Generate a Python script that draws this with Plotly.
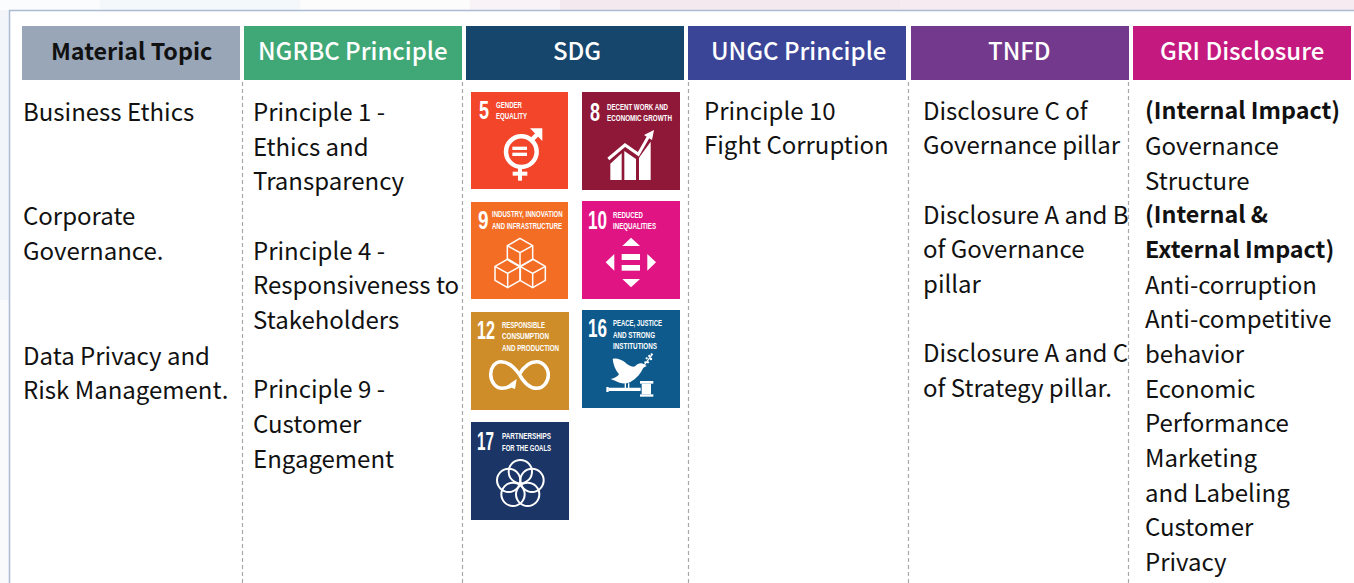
import json
import plotly.graph_objects as go

FONT = "Noto Sans CJK SC"
TILE_FONT = "Liberation Sans"
W, H = 1354, 583

header_labels = ["Material Topic", "NGRBC Principle", "SDG", "UNGC Principle", "TNFD", "GRI Disclosure"]
header_left = [22, 244, 466, 688, 911, 1133]
header_right = [240, 462, 684, 906, 1129, 1351]
header_fill = ["#98a6b8", "#40a877", "#17466c", "#3a4598", "#73398d", "#c41a80"]
header_ink = ["#111111", "#ffffff", "#ffffff", "#ffffff", "#ffffff", "#ffffff"]
header_size = [23.3, 24, 24, 24, 24, 24]
header_dx = [0, 0, 2, 1, -1, 0]
divider_x = [242.5, 462.5, 688.5, 908.5, 1128.5]

topic_lines = [("Business Ethics", 112), ("Corporate", 216.5), ("Governance.", 251),
               ("Data Privacy and", 356), ("Risk Management.", 390)]
ngrbc_lines = [("Principle 1 -", 112), ("Ethics and", 147), ("Transparency", 181),
               ("Principle 4 -", 251), ("Responsiveness to", 285), ("Stakeholders", 320),
               ("Principle 9 -", 389), ("Customer", 424), ("Engagement", 459)]
ungc_lines = [("Principle 10", 111), ("Fight Corruption", 145)]
tnfd_lines = [("Disclosure C of", 111), ("Governance pillar", 145),
              ("Disclosure A and B", 215), ("of Governance", 249), ("pillar", 284),
              ("Disclosure A and C", 353), ("of Strategy pillar.", 388)]
gri_lines = [("(Internal Impact)", 111), ("Governance", 146), ("Structure", 181),
             ("(Internal &", 215), ("External Impact)", 250),
             ("Anti-corruption", 285), ("Anti-competitive", 319), ("behavior", 354),
             ("Economic", 389), ("Performance", 423), ("Marketing", 458),
             ("and Labeling", 493), ("Customer", 527), ("Privacy", 562)]
gri_bold = ["(Internal Impact)", "(Internal &", "External Impact)"]
column_x = [23, 253, 704, 923, 1145]
column_lines = [topic_lines, ngrbc_lines, ungc_lines, tnfd_lines, gri_lines]

sdg_number = ["5", "8", "9", "10", "12", "16", "17"]
sdg_title = [["GENDER", "EQUALITY"], ["DECENT WORK AND", "ECONOMIC GROWTH"],
             ["INDUSTRY, INNOVATION", "AND INFRASTRUCTURE"], ["REDUCED", "INEQUALITIES"],
             ["RESPONSIBLE", "CONSUMPTION", "AND PRODUCTION"], ["PEACE, JUSTICE", "AND STRONG", "INSTITUTIONS"],
             ["PARTNERSHIPS", "FOR THE GOALS"]]
sdg_fill = ["#f2452a", "#8f1838", "#f36d25", "#e11484", "#cf8d2a", "#0e5a8c", "#1b3666"]
sdg_left = [471, 582, 471, 582, 471, 582, 471]
sdg_top = [92, 92, 202, 201, 312, 310, 422]
sdg_size = [97, 98, 97, 98, 98, 98, 98]
sdg_num_dx = [8, 8, 7.3, 5.7, 6, 5.7, 6]
sdg_num_dy = [18, 19.7, 18, 19, 18, 18, 19]
sdg_text_dx = [25, 24.7, 20.7, 31, 30.7, 31, 30.7]
sdg_text_dy = [12, 14, 12, 13, 12.3, 12.7, 13.7]
sdg_text_size = [9.6, 9.6, 8.3, 9.6, 9.6, 9.6, 9.6]

# squeezed widths of the condensed goal lettering
condensed_width = {
    "5": 10, "8": 10, "9": 10.5, "10": 19, "12": 18, "16": 19, "17": 17,
    "GENDER": 26, "EQUALITY": 31, "DECENT WORK AND": 61, "ECONOMIC GROWTH": 65,
    "INDUSTRY, INNOVATION": 70.7, "AND INFRASTRUCTURE": 70, "REDUCED": 30, "INEQUALITIES": 43,
    "RESPONSIBLE": 43, "CONSUMPTION": 47, "AND PRODUCTION": 57,
    "PEACE, JUSTICE": 49, "AND STRONG": 42, "INSTITUTIONS": 44,
    "PARTNERSHIPS": 49, "FOR THE GOALS": 49,
}

shapes = []
annotations = []


def rect(x0, y0, x1, y1, fill, line=None, width=0, layer="above"):
    shapes.append(dict(type="rect", xref="x", yref="y", x0=x0, y0=y0, x1=x1, y1=y1,
                       fillcolor=fill, layer=layer,
                       line=dict(color=line or fill, width=width)))


def text(x, y, s, size, color, family=FONT, anchor="left", weight=None):
    f = dict(family=family, size=size, color=color)
    if weight:
        f["weight"] = weight
    annotations.append(dict(x=x, y=y, xref="x", yref="y", text=s, showarrow=False,
                            xanchor=anchor, yanchor="middle", align=anchor, font=f,
                            borderpad=0, borderwidth=0))


def path(ox, oy, d, fill="white", stroke=None, width=0):
    out = []
    for seg in d:
        cmd, nums = seg[0], seg[1:]
        pts = []
        for i in range(0, len(nums), 2):
            pts.append(f"{ox + nums[i] / 3:.2f},{oy + nums[i + 1] / 3:.2f}")
        out.append(cmd + " ".join(pts))
    shapes.append(dict(type="path", xref="x", yref="y", path=" ".join(out),
                       fillcolor=fill if fill else "rgba(0,0,0,0)",
                       line=dict(color=stroke or "rgba(0,0,0,0)", width=width)))


def poly(ox, oy, pts, fill="white", stroke=None, width=0, closed=True):
    d = [("M", *pts[0])] + [("L", *p) for p in pts[1:]]
    if closed:
        d.append(("Z",))
    path(ox, oy, d, fill, stroke, width)


def circle(ox, oy, cx, cy, r, fill=None, stroke="white", width=2):
    shapes.append(dict(type="circle", xref="x", yref="y",
                       x0=ox + (cx - r) / 3, x1=ox + (cx + r) / 3,
                       y0=oy + (cy - r) / 3, y1=oy + (cy + r) / 3,
                       fillcolor=fill or "rgba(0,0,0,0)",
                       line=dict(color=stroke, width=width)))


def box(ox, oy, x0, y0, x1, y1, fill="white"):
    rect(ox + x0 / 3, oy + y0 / 3, ox + x1 / 3, oy + y1 / 3, fill)


# page backdrop
strip_x = [0, 100, 300, 470, 560, 900, 1354]
strip_c = ["#fbfcfd", "#f5f8fb", "#fcfcfd", "#f9f3f7", "#f5e9f0", "#f6ebf1"]
for a, b, c in zip(strip_x[:-1], strip_x[1:], strip_c):
    rect(a, 0, b, 10, c, layer="below")
rect(0, 10, 9, 300, "#f2f6fa", layer="below")
rect(0, 300, 9, H, "#f8fafc", layer="below")
rect(9.5, 10.5, W + 5, H + 5, "#ffffff", line="#adbad4", width=1.5, layer="below")

# header cells
for x0, x1, fill, label, ink, size, dx in zip(header_left, header_right, header_fill, header_labels, header_ink, header_size, header_dx):
    rect(x0, 26, x1, 80, fill)
    text((x0 + x1) / 2 + dx, 49.5, label, size, ink, anchor="center", weight=600 if ink != "#ffffff" else 500)

# dashed dividers
for x in divider_x:
    shapes.append(dict(type="line", xref="x", yref="y", x0=x, x1=x, y0=82, y1=H,
                       line=dict(color="#a8a8a8", width=1.2, dash="4px,3px")))

# body text
for x, lines in zip(column_x, column_lines):
    for s, y in lines:
        if s in gri_bold:
            text(x, y - 2, s, 23.3, "#111111", weight=700)
        else:
            text(x, y - 2, s, 24, "#111111")

# SDG tiles
for n, t, fill, x, y, s, ndx, ndy, tdx, tdy, ts in zip(sdg_number, sdg_title, sdg_fill, sdg_left, sdg_top, sdg_size,
                                                       sdg_num_dx, sdg_num_dy, sdg_text_dx, sdg_text_dy, sdg_text_size):
    rect(x, y, x + s, y + s, fill)
    text(x + ndx, y + ndy, n, 26, "#ffffff", family=TILE_FONT, weight=700)
    for i, line in enumerate(t):
        text(x + tdx, y + tdy + i * 11.5, line, ts, "#ffffff", family=TILE_FONT, weight=700)

# icon 5: gender equality
o = (465, 85)
circle(*o, 169, 200, 46, width=4.5)
poly(*o, [(200, 165), (225, 140)], fill=None, stroke="white", width=4.5, closed=False)
poly(*o, [(195, 130), (232, 130), (232, 168)], fill="white")
box(*o, 159, 248, 171, 287)
box(*o, 143, 260, 187, 272)
box(*o, 142, 185, 186, 195)
box(*o, 142, 203, 186, 213)

# icon 8: decent work
poly(*o, [(436, 236), (470, 205), (470, 285), (436, 285)])
poly(*o, [(478, 198), (513, 222), (513, 285), (478, 285)])
poly(*o, [(522, 218), (557, 170), (557, 285), (522, 285)])
poly(*o, [(430, 222), (480, 180), (520, 208), (553, 150)], fill=None, stroke="white", width=3, closed=False)
poly(*o, [(567, 135), (561, 165), (537, 150)])

# icon 9: stacked cubes
cube_centres = [(165, 503), (128, 565), (203, 565)]
for cx, cy in cube_centres:
    poly(*o, [(cx, cy - 43), (cx + 38, cy - 21), (cx + 38, cy + 21), (cx, cy + 43), (cx - 38, cy + 21), (cx - 38, cy - 21)],
         fill=None, stroke="white", width=1.5)
    poly(*o, [(cx - 38, cy - 21), (cx, cy), (cx + 38, cy - 21)], fill=None, stroke="white", width=1.5, closed=False)
    poly(*o, [(cx, cy), (cx, cy + 43)], fill=None, stroke="white", width=1.5, closed=False)

# icon 10: reduced inequalities
poly(*o, [(498, 458), (525, 483), (472, 483)])
poly(*o, [(498, 607), (472, 582), (525, 582)])
poly(*o, [(422, 532), (448, 507), (448, 557)])
poly(*o, [(573, 532), (547, 507), (547, 557)])
box(*o, 470, 507, 525, 525)
box(*o, 470, 540, 525, 557)

# icon 12: infinity loop
o2 = (465, 305)
path(*o2, [("M", 163, 208), ("C", 140, 175, 118, 170, 108, 170), ("C", 88, 170, 77, 190, 77, 208),
           ("C", 77, 230, 92, 250, 112, 250), ("C", 128, 250, 138, 243, 145, 237)],
     fill=None, stroke="white", width=3.5)
path(*o2, [("M", 163, 208), ("C", 180, 178, 200, 170, 215, 170), ("C", 235, 170, 250, 190, 250, 209),
           ("C", 250, 230, 235, 250, 215, 250), ("C", 195, 250, 178, 235, 163, 208)],
     fill=None, stroke="white", width=3.5)
poly(*o2, [(155, 222), (150, 252), (125, 243)])

# icon 16: dove and gavel
path(*o2, [("M", 443, 162), ("C", 455, 158, 470, 165, 480, 172), ("C", 490, 182, 505, 190, 512, 182),
           ("C", 518, 174, 530, 172, 537, 178), ("L", 545, 183), ("L", 535, 188),
           ("C", 528, 205, 515, 220, 495, 232), ("C", 480, 238, 465, 236, 452, 228),
           ("L", 437, 222), ("C", 450, 220, 458, 214, 462, 208), ("C", 450, 195, 445, 178, 443, 162), ("Z",)])
poly(*o2, [(532, 188), (562, 148)], fill=None, stroke="white", width=1.2, closed=False)
for lx, ly in [(545, 160), (553, 153), (558, 162), (549, 172), (541, 172), (560, 148)]:
    circle(*o2, lx, ly, 3.5, fill="white", width=0)
box(*o2, 479, 235, 483, 250)
box(*o2, 489, 235, 493, 250)
box(*o2, 430, 248, 527, 258)
box(*o2, 424, 246, 431, 261)
box(*o2, 525, 228, 565, 236)
box(*o2, 530, 236, 558, 268)
box(*o2, 525, 268, 565, 275)

# icon 17: partnerships
for cx, cy in [(166, 500), (201, 526), (188, 568), (144, 568), (131, 526)]:
    circle(*o2, cx, cy, 35, width=2)

fig = go.Figure()
fig.update_layout(
    width=W, height=H, margin=dict(l=0, r=0, t=0, b=0),
    paper_bgcolor="#ffffff", plot_bgcolor="#ffffff", showlegend=False,
    xaxis=dict(range=[0, W], visible=False, fixedrange=True),
    yaxis=dict(range=[H, 0], visible=False, fixedrange=True),
    shapes=shapes, annotations=annotations,
)
post = ("document.body.style.margin='0';document.body.style.overflow='hidden';"
        "var cw=" + json.dumps(condensed_width) + ";"
        "document.querySelectorAll('.annotation text').forEach(function(t){"
        "var w=cw[t.textContent];if(w){t.setAttribute('textLength',w);"
        "t.setAttribute('lengthAdjust','spacingAndGlyphs');}});")
fig.write_html("out.html", config=dict(displayModeBar=False), post_script=post)
